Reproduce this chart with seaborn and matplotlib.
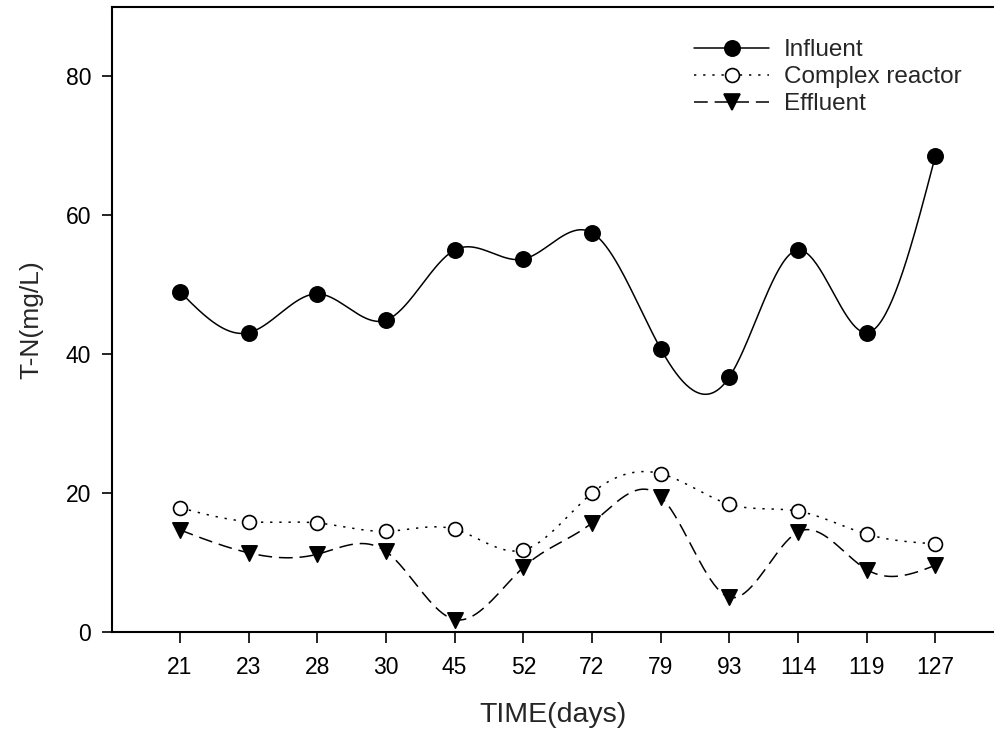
import numpy as np
import pandas as pd
import matplotlib
matplotlib.use('Agg')
import matplotlib.pyplot as plt
from matplotlib.lines import Line2D
from matplotlib import font_manager
import seaborn as sns

# 数据
days = ['21', '23', '28', '30', '45', '52', '72', '79', '93', '114', '119', '127']
influent = [49.0, 43.1, 48.7, 44.9, 55.0, 53.7, 57.5, 40.8, 36.7, 55.0, 43.1, 68.5]
complex_reactor = [17.9, 15.9, 15.7, 14.5, 14.8, 11.8, 20.0, 22.8, 18.4, 17.4, 14.1, 12.7]
effluent = [14.7, 11.4, 11.2, 11.6, 1.8, 9.3, 15.7, 19.5, 5.0, 14.4, 9.0, 9.6]

y_ticks = [0, 20, 40, 60, 80]

sns.set_theme(style='white')
plt.rcParams['font.family'] = ['Liberation Sans', 'DejaVu Sans']
plt.rcParams['axes.unicode_minus'] = False

# x轴文字在原图里是窄体
names = {f.name for f in font_manager.fontManager.ttflist}
narrow = 'Liberation Sans Narrow' if 'Liberation Sans Narrow' in names else 'Liberation Sans'


def spline_curve(y, n=40):
    # 自然三次样条，仅用于画平滑曲线
    y = np.asarray(y, dtype=float)
    m = len(y)
    A = np.zeros((m, m))
    b = np.zeros(m)
    A[0, 0] = A[-1, -1] = 1
    for i in range(1, m - 1):
        A[i, i - 1], A[i, i], A[i, i + 1] = 1, 4, 1
        b[i] = 6 * (y[i + 1] - 2 * y[i] + y[i - 1])
    M = np.linalg.solve(A, b)
    xs, ys = [], []
    for i in range(m - 1):
        t = np.linspace(0, 1, n, endpoint=False)
        s = (M[i] * (1 - t) ** 3 / 6 + M[i + 1] * t ** 3 / 6
             + (y[i] - M[i] / 6) * (1 - t) + (y[i + 1] - M[i + 1] / 6) * t)
        xs.append(i + t)
        ys.append(s)
    xs.append([m - 1])
    ys.append([y[-1]])
    return np.concatenate(xs), np.concatenate(ys)


fig = plt.figure(figsize=(9.95, 7.42), dpi=100)
ax = fig.add_axes([112 / 995, 1 - 632 / 742, 1 - 112 / 995, (632 - 7) / 742])

idx = np.arange(len(days))
lw = 1.1
series = [
    ('Influent', influent, '-', 'o', 'black', 11),
    ('Complex reactor', complex_reactor, (0, (1.5, 4.5)), 'o', 'white', 10),
    ('Effluent', effluent, (0, (9, 4.5)), 'v', 'black', 11),
]

handles = []
for name, vals, ls, mk, fc, ms in series:
    cx, cy = spline_curve(vals)
    df = pd.DataFrame({'x': cx, 'y': cy})
    sns.lineplot(data=df, x='x', y='y', ax=ax, color='black', linewidth=lw,
                 linestyle=ls, sort=False, zorder=2)
    pts = pd.DataFrame({'x': idx, 'y': vals})
    sns.scatterplot(data=pts, x='x', y='y', ax=ax, marker=mk, s=ms ** 2,
                    color=fc, edgecolor='black', linewidth=1.2, zorder=3)
    handles.append(Line2D([], [], color='black', linewidth=lw, linestyle=ls,
                          marker=mk, markersize=ms, markerfacecolor=fc,
                          markeredgecolor='black', markeredgewidth=1.2))

ax.set_xlim(-0.99, 11.87)
ax.set_ylim(0, 90)
ax.set_xticks(idx)
ax.set_xticklabels(days, fontsize=16.5, family=narrow)
ax.set_yticks(y_ticks)
ax.set_yticklabels([str(v) for v in y_ticks], fontsize=16.5)

ax.tick_params(axis='x', direction='out', length=8, width=1.2, pad=9, bottom=True, colors='black')
ax.tick_params(axis='y', direction='out', length=7, width=1.2, pad=8, left=True, colors='black')

for side in ['left', 'bottom', 'top']:
    ax.spines[side].set_visible(True)
    ax.spines[side].set_linewidth(1.5)
    ax.spines[side].set_color('black')
ax.spines['right'].set_visible(False)

ax.set_xlabel('TIME(days)', fontsize=20.5, labelpad=17, family=narrow)
ax.set_ylabel('T-N(mg/L)', fontsize=19, labelpad=16)

ax.legend(handles, [s[0] for s in series], loc='upper left',
          bbox_to_anchor=(694 / 995, 1 - 39 / 742), bbox_transform=fig.transFigure,
          frameon=False, fontsize=17.5, handlelength=3.1, handletextpad=0.6,
          labelspacing=0.21, borderpad=0, borderaxespad=0)

fig.savefig('out.png', dpi=100)
